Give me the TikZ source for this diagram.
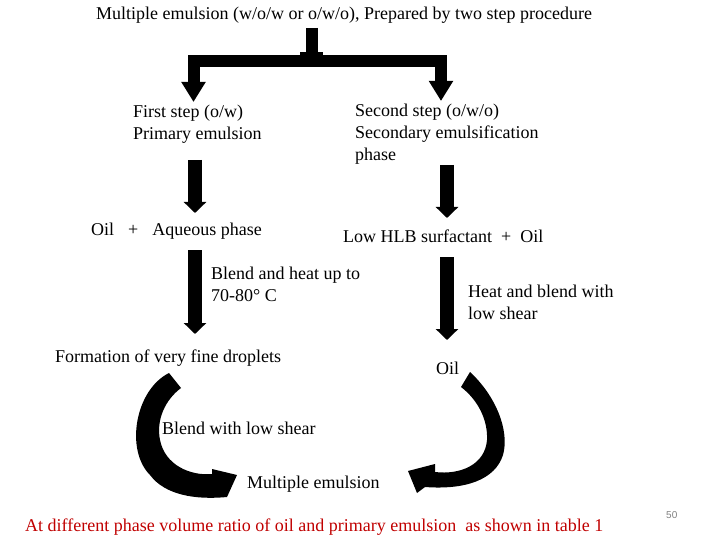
\documentclass[tikz,border=0pt]{standalone}
\usepackage{fontspec}
\setmainfont{Liberation Serif}
\setsansfont{Liberation Sans}
\usepackage{tikz}
\usetikzlibrary{arrows.meta}
\definecolor{notered}{RGB}{192,0,0}
\definecolor{pagegray}{RGB}{128,128,128}

\begin{document}
\begin{tikzpicture}[x=1pt,y=-1pt,
	fork/.style={draw,line width=12pt,line join=miter},
	forkarrow/.style={fork,-{Triangle[width=23pt,length=20pt]}},
	shaft/.style={draw,line width=14pt,-{Triangle[width=22pt,length=11pt]}}]
	\useasboundingbox (0,0) rectangle (720,540);
	\begin{scope}[every node/.style={inner sep=0pt,font=\fontsize{18}{22}\selectfont,align=left}]
		\node[anchor=base west] (title) at (96,20) {Multiple emulsion (w/o/w or o/w/o), Prepared by two step procedure};
		\node[anchor=west] (first) at (133,124) {First step (o/w)\\Primary emulsion};
		\node[anchor=west] (second) at (355,134.5) {Second step (o/w/o)\\Secondary emulsification\\phase};
		\node[anchor=base west] (oilaq) at (91,236) {Oil\hspace*{14pt}+\hspace*{14pt}Aqueous phase};
		\node[anchor=base west] (lowhlb) at (343,242) {Low HLB surfactant~~+~~Oil};
		\node[anchor=west] (blendheat) at (211,284) {Blend and heat up to\\70-80\textdegree\ C};
		\node[anchor=west] (heatblend) at (468,302) {Heat and blend with\\low shear};
		\node[anchor=base west] (droplets) at (55,362) {Formation of very fine droplets};
		\node[anchor=base west] (oil) at (436,374) {Oil};
		\node[anchor=base west] (blendlow) at (162,434) {Blend with low shear};
		\node[anchor=base west] (multi) at (247,488) {Multiple emulsion};
		\node[anchor=base west,text=notered] (note) at (25,531) {At different phase volume ratio of oil and primary emulsion\ \ as shown in table 1};
		\node[anchor=base west,font=\sffamily\fontsize{10}{12}\selectfont,text=pagegray] (page) at (666,518) {50};
	\end{scope}
	% two step branching
	\coordinate (stemtop) at (312,28);
	\coordinate (forkmid) at (312,61.5);
	\coordinate (forkL) at (193.5,102);
	\coordinate (forkR) at (441,101);
	\draw[fork] (stemtop) -- (forkmid);
	\fill (300,52) rectangle (323,57);
	\draw[forkarrow] (forkmid) -| (forkL);
	\draw[forkarrow] (forkmid) -| (forkR);
	% straight steps
	\coordinate (l1a) at (195,160);
	\coordinate (l1b) at (195,213);
	\coordinate (l2a) at (195,250);
	\coordinate (l2b) at (195,334);
	\coordinate (r1a) at (447,165);
	\coordinate (r1b) at (447,218);
	\coordinate (r2a) at (447,257);
	\coordinate (r2b) at (447,340);
	\draw[shaft] (l1a) -- (l1b);
	\draw[shaft] (l2a) -- (l2b);
	\draw[shaft] (r1a) -- (r1b);
	\draw[shaft] (r2a) -- (r2b);
	% curved arrows into the multiple emulsion
	\fill (169,373) .. controls (135,390) and (125,450) .. (150,475)
		.. controls (165,495) and (195,500) .. (227,497) -- (237,475) -- (212,469) -- (212,474)
		.. controls (190,476) and (165,465) .. (160,440)
		.. controls (156,420) and (165,400) .. (181,388) -- cycle;
	\fill (470,372) .. controls (495,395) and (510,430) .. (503,455)
		.. controls (495,480) and (465,490) .. (425,487) -- (417,493) -- (408,471) -- (435,464) -- (435,472)
		.. controls (460,475) and (485,465) .. (487,440)
		.. controls (488,420) and (478,400) .. (461,387) -- cycle;
\end{tikzpicture}
\end{document}
